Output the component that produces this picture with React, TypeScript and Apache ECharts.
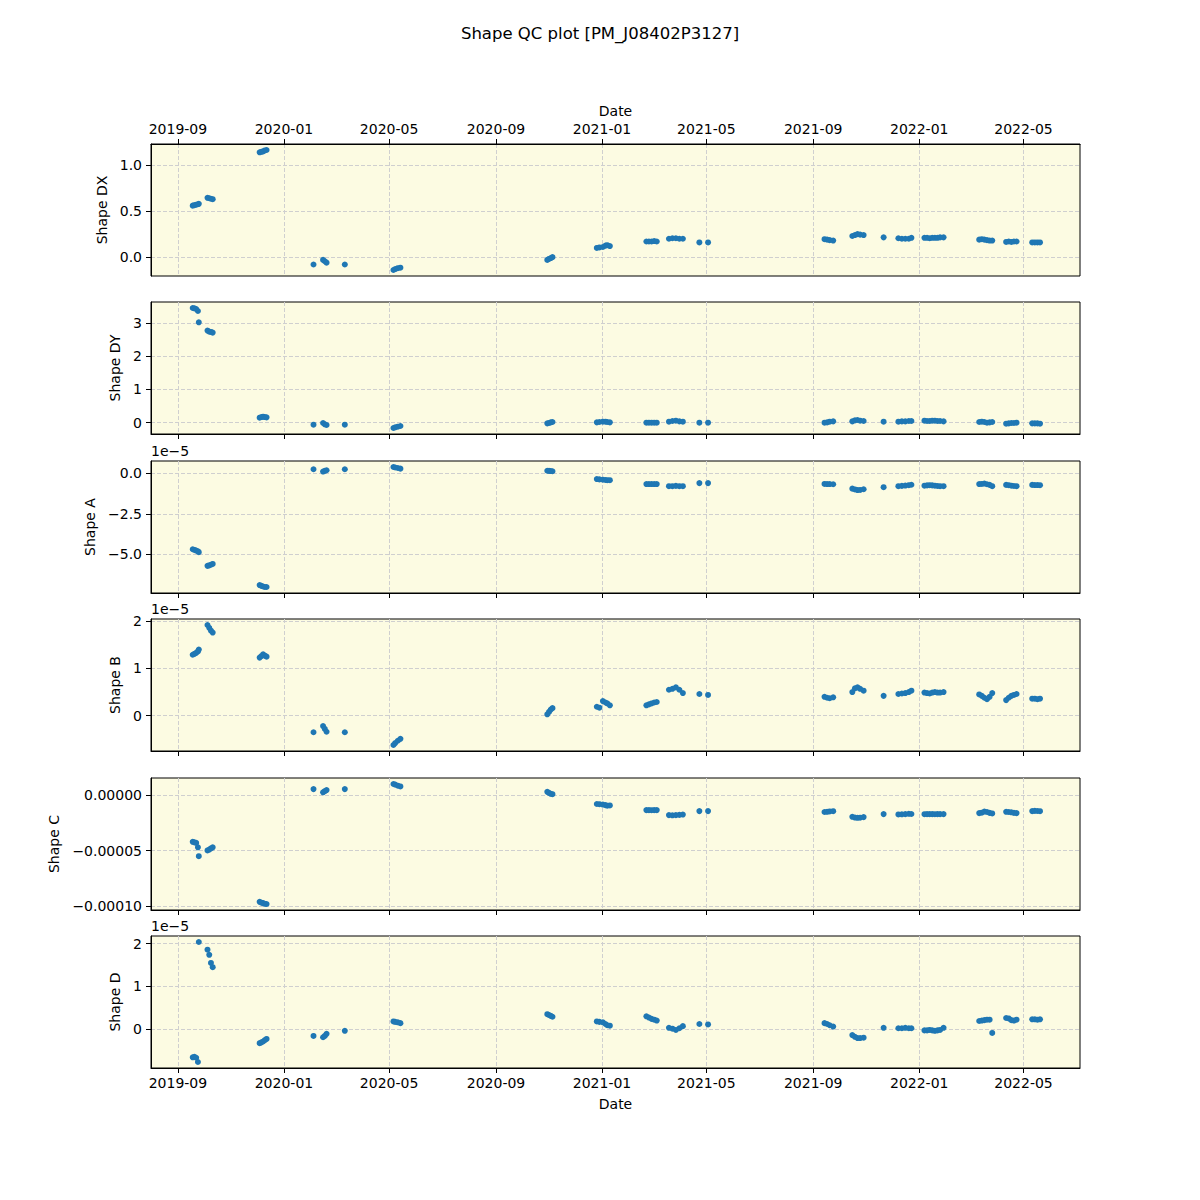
import React, { useEffect, useRef } from "react";
import * as echarts from "echarts";

// Observation dates (shared by all panels)
const dates = [
  "2019-09-18", "2019-09-20", "2019-09-22", "2019-09-24", "2019-09-25",
  "2019-10-05", "2019-10-07", "2019-10-09", "2019-10-11",
  "2019-12-04", "2019-12-06", "2019-12-08", "2019-12-10", "2019-12-12",
  "2020-02-04",
  "2020-02-15", "2020-02-17", "2020-02-19",
  "2020-03-11",
  "2020-05-06", "2020-05-08", "2020-05-11", "2020-05-14",
  "2020-10-30", "2020-11-01", "2020-11-03", "2020-11-05",
  "2020-12-26", "2020-12-29", "2021-01-02", "2021-01-05", "2021-01-07", "2021-01-10",
  "2021-02-21", "2021-02-24", "2021-02-27", "2021-03-02", "2021-03-05",
  "2021-03-19", "2021-03-23", "2021-03-27", "2021-03-31", "2021-04-04",
  "2021-04-23", "2021-05-03",
  "2021-09-14", "2021-09-17", "2021-09-20", "2021-09-24",
  "2021-10-16", "2021-10-19", "2021-10-22", "2021-10-25", "2021-10-29",
  "2021-11-21",
  "2021-12-08", "2021-12-12", "2021-12-16", "2021-12-20", "2021-12-23",
  "2022-01-07", "2022-01-10", "2022-01-13", "2022-01-16", "2022-01-19", "2022-01-22", "2022-01-25", "2022-01-29",
  "2022-03-11", "2022-03-14", "2022-03-17", "2022-03-20", "2022-03-23", "2022-03-26",
  "2022-04-11", "2022-04-14", "2022-04-17", "2022-04-20", "2022-04-23",
  "2022-05-11", "2022-05-14", "2022-05-17", "2022-05-20",
];

const shapeDX = [
  0.56, 0.565, 0.57, 0.575, 0.58,
  0.645, 0.64, 0.635, 0.63,
  1.14, 1.145, 1.15, 1.16, 1.165,
  -0.08,
  -0.03, -0.045, -0.06,
  -0.08,
  -0.14, -0.13, -0.12, -0.115,
  -0.03, -0.02, -0.01, 0.0,
  0.1, 0.105, 0.11, 0.125, 0.13, 0.12,
  0.17, 0.17, 0.17, 0.175, 0.17,
  0.2, 0.205, 0.205, 0.2, 0.2,
  0.16, 0.16,
  0.195, 0.19, 0.185, 0.18,
  0.23, 0.24, 0.25, 0.245, 0.24,
  0.215,
  0.205, 0.2, 0.2, 0.2, 0.21,
  0.21, 0.21, 0.205, 0.21, 0.21, 0.21, 0.215, 0.215,
  0.19, 0.195, 0.19, 0.185, 0.18, 0.18,
  0.165, 0.17, 0.165, 0.17, 0.17,
  0.16, 0.16, 0.16, 0.16,
];

const shapeDY = [
  3.45, 3.44, 3.42, 3.36, 3.02,
  2.77, 2.74, 2.73, 2.71,
  0.15, 0.17, 0.18, 0.17, 0.16,
  -0.06,
  -0.01, -0.05, -0.07,
  -0.06,
  -0.16, -0.14, -0.12, -0.1,
  -0.02, -0.01, 0.01, 0.02,
  0.01, 0.02, 0.03, 0.03, 0.02, 0.01,
  0.0, 0.0, 0.0, 0.0, 0.0,
  0.03, 0.05, 0.06, 0.04, 0.03,
  0.0, 0.0,
  0.0, 0.01, 0.03, 0.04,
  0.04, 0.07, 0.08, 0.06, 0.05,
  0.03,
  0.03, 0.04, 0.04, 0.05, 0.05,
  0.06, 0.05, 0.05, 0.06, 0.06, 0.05, 0.05, 0.04,
  0.02, 0.03, 0.02, 0.0, 0.01, 0.02,
  -0.03, -0.02, -0.01, -0.01, 0.0,
  -0.02, -0.02, -0.02, -0.03,
];

// Shape A, B, C, D values in units of 1e-5
const shapeA = [
  -4.68, -4.72, -4.76, -4.8, -4.86,
  -5.7, -5.67, -5.63, -5.58,
  -6.88, -6.93, -6.97, -7.0, -7.0,
  0.24,
  0.1, 0.14, 0.18,
  0.24,
  0.38, 0.35, 0.32, 0.28,
  0.15, 0.14, 0.13, 0.12,
  -0.36, -0.38, -0.4, -0.42, -0.43, -0.43,
  -0.67, -0.67, -0.67, -0.67, -0.67,
  -0.8, -0.8, -0.78, -0.8, -0.8,
  -0.61, -0.61,
  -0.66, -0.67, -0.67, -0.68,
  -0.95, -1.0, -1.04, -1.03, -0.99,
  -0.86,
  -0.8, -0.78, -0.76, -0.74, -0.71,
  -0.77, -0.75, -0.74, -0.75, -0.77, -0.79, -0.8, -0.8,
  -0.67, -0.66, -0.64, -0.68, -0.72, -0.8,
  -0.72, -0.74, -0.77, -0.79, -0.8,
  -0.72, -0.73, -0.73, -0.74,
];

const shapeB = [
  1.29, 1.31, 1.33, 1.36, 1.4,
  1.92, 1.86, 1.8, 1.76,
  1.23, 1.26, 1.3, 1.27, 1.25,
  -0.35,
  -0.22, -0.28, -0.34,
  -0.35,
  -0.62, -0.58, -0.53, -0.49,
  0.03, 0.08, 0.13, 0.16,
  0.19, 0.17, 0.31, 0.28, 0.26, 0.22,
  0.22, 0.24, 0.26, 0.28, 0.29,
  0.55, 0.57, 0.6, 0.55, 0.48,
  0.46, 0.44,
  0.4, 0.38, 0.37, 0.39,
  0.5, 0.58, 0.6, 0.57, 0.53,
  0.42,
  0.46, 0.47, 0.48, 0.5, 0.53,
  0.49, 0.48, 0.47, 0.49, 0.5, 0.49, 0.49, 0.5,
  0.45, 0.42, 0.38, 0.35, 0.4, 0.48,
  0.33, 0.38, 0.42, 0.44, 0.46,
  0.36, 0.36, 0.35, 0.36,
];

const shapeC = [
  -4.2, -4.25, -4.3, -4.7, -5.5,
  -4.98, -4.9, -4.8, -4.7,
  -9.6, -9.68, -9.72, -9.78, -9.8,
  0.54,
  0.25, 0.35, 0.45,
  0.54,
  1.0, 0.95, 0.85, 0.78,
  0.3, 0.2, 0.12, 0.08,
  -0.8, -0.82, -0.85, -0.9, -0.95, -0.93,
  -1.35, -1.35, -1.36, -1.35, -1.35,
  -1.8, -1.82, -1.8, -1.78, -1.75,
  -1.44, -1.44,
  -1.52, -1.5, -1.47, -1.45,
  -1.95, -2.02, -2.04, -2.03, -1.98,
  -1.71,
  -1.74, -1.73, -1.71, -1.68, -1.7,
  -1.72, -1.71, -1.71, -1.71, -1.72, -1.71, -1.71, -1.71,
  -1.62, -1.58, -1.48, -1.52, -1.6, -1.65,
  -1.5, -1.52, -1.55, -1.6, -1.62,
  -1.44, -1.42, -1.43, -1.45,
];

const shapeD = [
  -0.66, -0.65, -0.67, -0.77, 2.04,
  1.86, 1.74, 1.55, 1.45,
  -0.33, -0.31, -0.29, -0.26, -0.23,
  -0.16,
  -0.19, -0.16, -0.11,
  -0.04,
  0.18, 0.17, 0.16, 0.14,
  0.35, 0.33, 0.31, 0.29,
  0.18, 0.17, 0.16, 0.12, 0.09, 0.08,
  0.3, 0.27, 0.24, 0.22, 0.2,
  0.03, 0.01, -0.02, 0.02, 0.07,
  0.12, 0.11,
  0.14, 0.12, 0.09, 0.06,
  -0.14, -0.18, -0.21, -0.21, -0.2,
  0.03,
  0.02, 0.02, 0.03, 0.02, 0.02,
  -0.03, -0.03, -0.02, -0.03, -0.04, -0.03, -0.02, 0.03,
  0.19, 0.2, 0.21, 0.22, 0.22, -0.09,
  0.26, 0.25, 0.21, 0.2, 0.22,
  0.23, 0.23, 0.22, 0.23,
];

const xTickDates = [
  "2019-09-01", "2020-01-01", "2020-05-01", "2020-09-01", "2021-01-01",
  "2021-05-01", "2021-09-01", "2022-01-01", "2022-05-01",
];
const xRange = ["2019-08-01", "2022-07-05"];

const ticksDX = [0, 0.5, 1.0];
const ticksDY = [0, 1, 2, 3];
const ticksA = [-5, -2.5, 0];
const ticksB = [0, 1, 2];
const ticksC = [-10, -5, 0];
const ticksD = [0, 1, 2];

const FONT = "DejaVu Sans";
const MINUS = "\u2212";
const ts = (s: string) => Date.parse(s + "T00:00:00Z");
const fmtMinus = (s: string) => s.replace("-", MINUS);

const panels = [
  { name: "Shape DX", values: shapeDX, ticks: ticksDX, fmt: (v: number) => fmtMinus(v.toFixed(1)), gap: 35, offset: false },
  { name: "Shape DY", values: shapeDY, ticks: ticksDY, fmt: (v: number) => fmtMinus(v.toFixed(0)), gap: 22, offset: false },
  { name: "Shape A", values: shapeA, ticks: ticksA, fmt: (v: number) => fmtMinus(v.toFixed(1)), gap: 48, offset: true },
  { name: "Shape B", values: shapeB, ticks: ticksB, fmt: (v: number) => fmtMinus(v.toFixed(0)), gap: 22, offset: true },
  { name: "Shape C", values: shapeC, ticks: ticksC, fmt: (v: number) => (Math.abs(v) < 1e-12 ? "0.00000" : fmtMinus((v * 1e-5).toFixed(5))), gap: 82, offset: false },
  { name: "Shape D", values: shapeD, ticks: ticksD, fmt: (v: number) => fmtMinus(v.toFixed(0)), gap: 22, offset: true },
];

const TOPS = [144, 302, 461, 619, 778, 936];
const HEIGHT = 132;
const LEFT = 151;
const RIGHT = 120;

export default function App() {
  const ref = useRef<HTMLDivElement>(null);

  useEffect(() => {
    if (!ref.current) return;
    const chart = echarts.init(ref.current, undefined, { renderer: "svg" });

    const xTicks = xTickDates.map(ts);
    const fmtDate = (v: number) => {
      const d = new Date(v);
      const m = d.getUTCMonth() + 1;
      return d.getUTCFullYear() + "-" + (m < 10 ? "0" + m : "" + m);
    };
    const gridLine = { show: true, lineStyle: { color: "#cfcfcf", type: [4, 2] as any, width: 1 } };
    const n = panels.length;

    const grids = panels.map((_, i) => ({
      left: LEFT,
      right: RIGHT,
      top: TOPS[i],
      height: HEIGHT,
      show: true,
      backgroundColor: "#fcfbe2",
      borderColor: "#000",
      borderWidth: 1,
    }));

    const xAxes = panels.map((_, i) => {
      const isTop = i === 0;
      const isBottom = i === n - 1;
      const showLabels = isTop || isBottom;
      return {
        type: "value",
        gridIndex: i,
        position: isTop ? "top" : "bottom",
        min: ts(xRange[0]),
        max: ts(xRange[1]),
        name: showLabels ? "Date" : "",
        nameLocation: "middle",
        nameGap: isTop ? 26 : 29,
        nameTextStyle: { color: "#000", fontSize: 14, fontFamily: FONT },
        axisLine: { show: true, onZero: false, lineStyle: { color: "#000", width: 1 } },
        axisTick: { show: true, inside: false, length: 5, customValues: xTicks, lineStyle: { color: "#000", width: 1 } },
        axisLabel: {
          show: showLabels,
          customValues: xTicks,
          formatter: (v: number) => fmtDate(v),
          color: "#000",
          fontSize: 14,
          fontFamily: FONT,
          margin: 8,
          showMinLabel: true,
          showMaxLabel: true,
        },
        splitLine: gridLine,
      };
    });

    const yAxes = panels.map((p, i) => {
      const lo = Math.min(...p.values);
      const hi = Math.max(...p.values);
      const pad = (hi - lo) * 0.05;
      return {
        type: "value",
        gridIndex: i,
        min: lo - pad,
        max: hi + pad,
        name: p.name,
        nameLocation: "middle",
        nameGap: p.gap,
        nameTextStyle: { color: "#000", fontSize: 14, fontFamily: FONT },
        axisLine: { show: true, onZero: false, lineStyle: { color: "#000", width: 1 } },
        axisTick: { show: true, inside: false, length: 5, customValues: p.ticks, lineStyle: { color: "#000", width: 1 } },
        axisLabel: {
          customValues: p.ticks,
          formatter: (v: number) => p.fmt(v),
          color: "#000",
          fontSize: 14,
          fontFamily: FONT,
          margin: 9,
          showMinLabel: true,
          showMaxLabel: true,
        },
        splitLine: gridLine,
      };
    });

    const series = panels.map((p, i) => ({
      type: "scatter",
      xAxisIndex: i,
      yAxisIndex: i,
      symbolSize: 6,
      itemStyle: { color: "#1f77b4", opacity: 1 },
      data: dates.map((d, j) => [ts(d), p.values[j]]),
    }));

    const graphics = panels
      .map((p, i) => (p.offset ? {
        type: "text",
        left: LEFT,
        top: TOPS[i] - 17,
        style: { text: "1e" + MINUS + "5", fontSize: 14, fontFamily: FONT, fill: "#000" },
      } : null))
      .filter(Boolean);

    chart.setOption({
      animation: false,
      backgroundColor: "#fff",
      title: {
        text: "Shape QC plot [PM_J08402P3127]",
        left: "center",
        top: 20,
        textStyle: { fontSize: 16.5, fontWeight: "normal", color: "#000", fontFamily: FONT },
      },
      grid: grids,
      xAxis: xAxes,
      yAxis: yAxes,
      series,
      graphic: graphics,
    } as any);

    return () => chart.dispose();
  }, []);

  return (
    <div
      ref={ref}
      style={{ position: "absolute", left: 0, top: 0, width: 1200, height: 1200 }}
    />
  );
}
